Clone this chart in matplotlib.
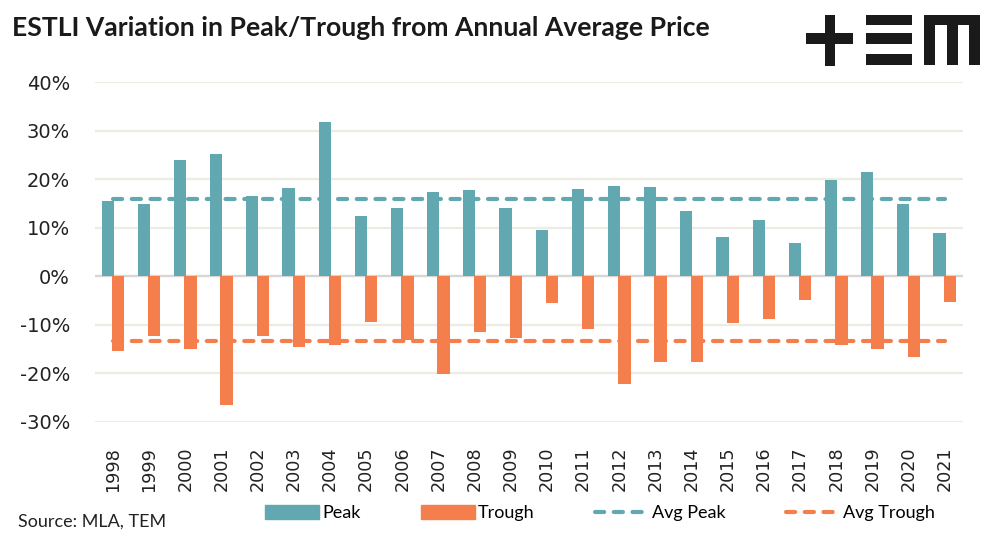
import numpy as np
import matplotlib
matplotlib.use('Agg')
import matplotlib.pyplot as plt
from matplotlib.patches import Patch, Rectangle
from matplotlib.lines import Line2D
from matplotlib.ticker import PercentFormatter

# 数据（从图中读取，单位：%）
years = [str(y) for y in range(1998, 2022)]
peak = [15.5, 14.8, 23.9, 25.2, 16.6, 18.3, 31.9, 12.5, 14.0, 17.3, 17.7, 14.0,
        9.6, 17.9, 18.7, 18.5, 13.5, 8.0, 11.7, 6.9, 19.9, 21.6, 14.8, 9.0]
trough = [-15.4, -12.4, -15.0, -26.5, -12.4, -14.6, -14.1, -9.4, -13.2, -20.1, -11.5, -12.8,
          -5.5, -10.8, -22.3, -17.7, -17.7, -9.6, -8.8, -4.9, -14.2, -15.0, -16.6, -5.3]
avg_peak = 16.0
avg_trough = -13.3

TEAL = '#62A8B1'
ORANGE = '#F47F4D'
GRID = '#ECECE2'
W, H = 1004, 539

plt.rcParams['font.family'] = ['DejaVu Sans']
plt.rcParams['axes.unicode_minus'] = False
fig = plt.figure(figsize=(W / 100, H / 100), dpi=100)
ax = fig.add_axes([95 / W, 1 - 421.7 / H, (963 - 95) / W, (421.7 - 82.3) / H])

x = np.arange(len(years))
ax.bar(x - 0.15, peak, width=0.34, color=TEAL, zorder=3)
ax.bar(x + 0.14, trough, width=0.34, color=ORANGE, zorder=3)

dash = (0, (2.2, 2.3))
ax.plot([x[0], x[-1]], [avg_peak, avg_peak], color=TEAL, lw=3, linestyle=dash,
        dash_capstyle='round', zorder=4)
ax.plot([x[0], x[-1]], [avg_trough, avg_trough], color=ORANGE, lw=3, linestyle=dash,
        dash_capstyle='round', zorder=4)

ax.set_xlim(-0.5, len(years) - 0.5)
ax.set_ylim(-30, 40)
ax.set_yticks(np.arange(-30, 41, 10))
ax.yaxis.set_major_formatter(PercentFormatter(decimals=0))
ax.grid(axis='y', color=GRID, lw=1.6, zorder=0)
ax.axhline(0, color='#D6D6D6', lw=1.6, zorder=2)
for s in ax.spines.values():
    s.set_visible(False)
ax.set_xticks(x)
ax.set_xticklabels(years, rotation=90)
ax.tick_params(axis='x', length=0, pad=18, labelsize=12.7, colors='#222222')
ax.tick_params(axis='y', length=0, pad=18, labelsize=14, colors='#222222')

# 标题 / 来源
fig.text(12 / W, 1 - 28 / H, 'ESTLI Variation in Peak/Trough from Annual Average Price',
         family='Lato', weight='bold', fontsize=19.1, color='#1a1a1a', va='center')
fig.text(18 / W, 1 - 522 / H, 'Source: MLA, TEM', family='Lato', fontsize=13,
         color='#222222', va='center')

# 图例
handles = [Patch(color=TEAL), Patch(color=ORANGE),
           Line2D([], [], color=TEAL, lw=3, linestyle=dash, dash_capstyle='round'),
           Line2D([], [], color=ORANGE, lw=3, linestyle=dash, dash_capstyle='round')]
fig.legend(handles, ['Peak', 'Trough', 'Avg Peak', 'Avg Trough'], ncol=4,
           loc='center', bbox_to_anchor=(600 / W, 1 - 513 / H), frameon=False,
           prop={'family': 'Lato', 'size': 13}, handlelength=3.0, handleheight=0.8,
           handletextpad=0.15, columnspacing=3.35)

# TEM 标志
def box(x0, y0, x1, y1):
    fig.add_artist(Rectangle((x0 / W, 1 - y1 / H), (x1 - x0) / W, (y1 - y0) / H,
                             transform=fig.transFigure, color='#1a1a1a', lw=0))

box(806, 33.5, 853, 44.5)
box(825, 15, 835, 66)
box(866, 15, 912, 25)
box(866, 33.5, 912, 44.5)
box(866, 54, 912, 65)
box(924, 15, 980, 25)
box(924, 15, 935.5, 65)
box(946.5, 15, 957.5, 65)
box(969, 15, 980, 65)

fig.savefig('out.png', dpi=100)
